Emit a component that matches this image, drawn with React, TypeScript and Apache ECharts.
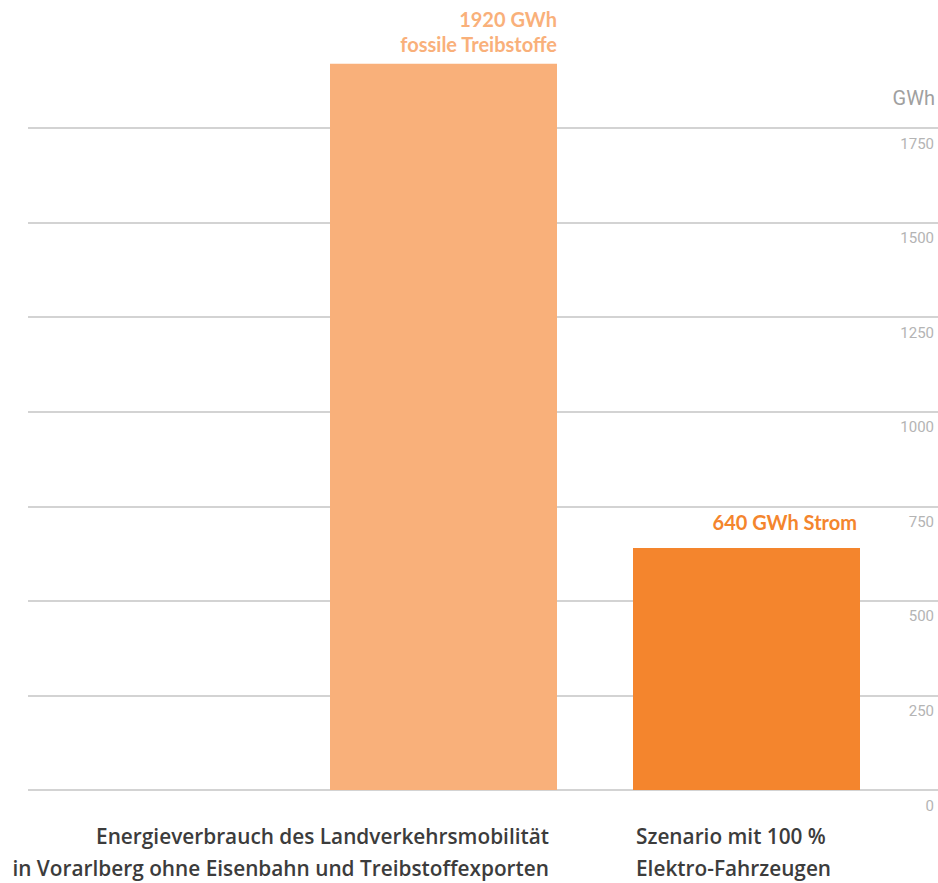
import React, { useEffect, useRef } from "react";
import * as echarts from "echarts";

const categories = [
  "Energieverbrauch des Landverkehrsmobilität\nin Vorarlberg ohne Eisenbahn und Treibstoffexporten",
  "Szenario mit 100 %\nElektro-Fahrzeugen",
];
const values = [1920, 640];
const valueLabels = ["1920 GWh\nfossile Treibstoffe", "640 GWh Strom"];
const barColors = ["#F9B07A", "#F4852D"];
const yMin = 0;
const yMax = 1750;
const yInterval = 250;
const unitLabel = "GWh";

export default function App() {
  const ref = useRef<HTMLDivElement>(null);
  useEffect(() => {
    if (!ref.current) return;
    const chart = echarts.init(ref.current, undefined, { renderer: "svg" });
    const labelOffsets = [-7, -13];
    const labelRight = [227, 224];
    const catFont = "600 20.8px 'Open Sans'";
    const option: any = {
      animation: false,
      backgroundColor: "#ffffff",
      grid: [
        { left: 28, right: 0, top: 128, height: 662 },
        { left: 292, right: 40, top: 128, height: 662 },
      ],
      xAxis: [
        { gridIndex: 0, type: "value", show: false, min: 0, max: 1 },
        {
          gridIndex: 1,
          type: "category",
          data: categories,
          show: false,
        },
      ],
      yAxis: [
        {
          gridIndex: 0,
          type: "value",
          min: yMin,
          max: yMax,
          interval: yInterval,
          position: "right",
          axisLine: { show: false },
          axisTick: { show: false },
          splitLine: { show: true, lineStyle: { color: "#c4c4c4", width: 1.5 } },
          axisLabel: {
            inside: true,
            margin: 4,
            verticalAlign: "top",
            padding: [8, 0, 0, 0],
            color: "#b4b4b4",
            fontFamily: "Roboto",
            fontSize: 15,
            formatter: (v: number) => String(v),
          },
        },
        { gridIndex: 1, type: "value", min: yMin, max: yMax, show: false },
      ],
      series: [
        {
          type: "bar",
          xAxisIndex: 1,
          yAxisIndex: 1,
          barWidth: 227,
          clip: false,
          data: values.map((v, i) => ({
            value: v,
            itemStyle: { color: barColors[i] },
            label: {
              show: true,
              formatter: valueLabels[i],
              position: [labelRight[i], labelOffsets[i]],
              align: "right",
              verticalAlign: "bottom",
              color: barColors[i],
              fontFamily: "Lato",
              fontWeight: "bold",
              fontSize: 20,
              lineHeight: 25,
            },
          })),
        },
      ],
      graphic: [
        {
          type: "text",
          x: 935,
          y: 98,
          style: {
            text: unitLabel,
            textAlign: "right",
            textVerticalAlign: "middle",
            fill: "#a0a0a0",
            font: "20px Roboto",
          },
        },
        {
          type: "text",
          x: 549,
          y: 820,
          style: {
            text: categories[0],
            textAlign: "right",
            textVerticalAlign: "top",
            fill: "#3c3c3c",
            font: catFont,
            lineHeight: 32,
          },
        },
        {
          type: "text",
          x: 636,
          y: 820,
          style: {
            text: categories[1],
            textAlign: "left",
            textVerticalAlign: "top",
            fill: "#3c3c3c",
            font: catFont,
            lineHeight: 32,
          },
        },
      ],
    };
    chart.setOption(option);
    return () => chart.dispose();
  }, []);
  return (
    <div
      ref={ref}
      style={{ position: "fixed", left: 0, top: 0, width: 938, height: 883 }}
    />
  );
}
